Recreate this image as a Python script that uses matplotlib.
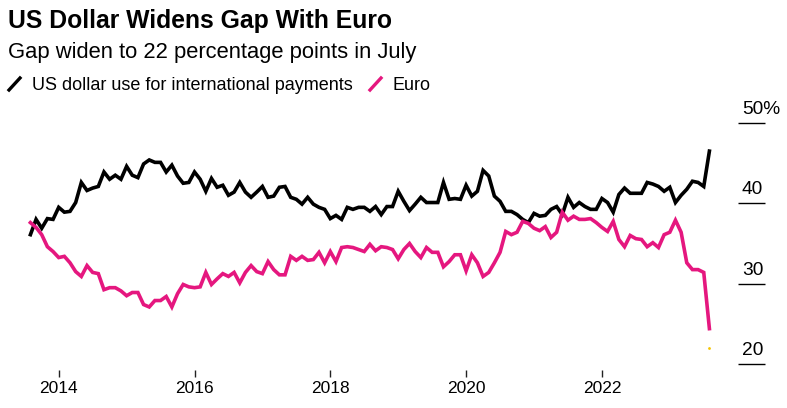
import numpy as np
import matplotlib
matplotlib.use("Agg")
import matplotlib.pyplot as plt
from matplotlib.lines import Line2D

plt.rcParams['font.family'] = ['Liberation Sans', 'DejaVu Sans']

# monthly, Jul 2013 .. Jul 2023 (share of international payments, %)
usd = [36.1, 38.0, 36.9, 38.1, 38.0, 39.5, 38.9, 39.0, 40.1, 42.6, 41.6, 41.9, 42.1, 43.9, 43.0, 43.5, 43.0, 44.6, 43.5, 43.2,
       44.9, 45.4, 45.1, 45.1, 43.9, 44.75, 43.4, 42.5, 42.6, 43.9, 43.0, 41.5, 43.1, 42.0, 42.25, 41.0, 41.4, 42.6, 41.4, 40.75,
       41.4, 42.1, 40.75, 40.9, 42.0, 42.1, 40.75, 40.5, 39.9, 40.75, 39.9, 39.5, 39.25, 38.1, 38.5, 38.0, 39.5, 39.25, 39.5, 39.5, 39.0,
       39.6, 38.6, 39.6, 39.6, 41.5, 40.25, 39.1, 39.9, 40.75, 40.1, 40.1, 40.1, 42.6, 40.5, 40.6, 40.5, 42.25, 40.9, 41.5, 44.1,
       43.4, 40.9, 40.25, 39.0, 39.0, 38.6, 38.0, 37.6, 38.75, 38.4, 38.5, 39.25, 39.6, 38.6, 40.75, 39.5, 40.1, 39.6, 39.25, 39.25,
       40.6, 40.1, 38.9, 41.1, 41.9, 41.25, 41.25, 41.25, 42.6, 42.4, 42.1, 41.5, 42.0, 40.1, 41.0, 41.75, 42.75, 42.6, 42.1, 46.5]
eur = [37.6, 37.0, 36.1, 34.6, 34.0, 33.25, 33.4, 32.6, 31.5, 30.9, 32.25, 31.4, 31.25, 29.25, 29.5, 29.5, 29.1, 28.5, 28.9, 28.9,
       27.4, 27.1, 27.9, 27.9, 28.4, 27.1, 28.75, 29.9, 29.6, 29.5, 29.6, 31.4, 29.9, 30.6, 31.25, 30.9, 31.4, 30.1, 31.4, 32.25,
       31.5, 31.25, 32.75, 31.75, 31.1, 31.1, 33.4, 32.9, 33.4, 32.9, 33.0, 33.9, 32.6, 34.0, 32.75, 34.5, 34.6, 34.5, 34.25, 34.0, 34.9,
       34.1, 34.6, 34.5, 34.25, 33.1, 34.25, 35.0, 34.0, 33.25, 34.5, 33.9, 33.9, 32.1, 32.75, 33.6, 33.6, 31.6, 33.6, 32.6, 30.9,
       31.4, 32.6, 33.9, 36.5, 36.1, 36.4, 37.75, 37.5, 36.9, 36.6, 37.1, 35.75, 36.4, 38.9, 37.9, 38.4, 38.0, 38.0, 38.1, 37.6,
       37.0, 36.5, 37.75, 35.5, 34.6, 36.0, 35.6, 35.5, 34.6, 35.1, 34.5, 36.1, 36.4, 37.9, 36.4, 32.6, 31.75, 31.75, 31.4, 24.4]
gap_last = 22.0
year_ticks = [2014, 2016, 2018, 2020, 2022]
y_ticks = [20, 30, 40, 50]
y_labels = ['20', '30', '40', '50%']

BLACK = '#000000'
PINK = '#e5177f'

# end of month as fractional year
x = 2013 + 7 / 12 + np.arange(len(usd)) / 12

W, H = 787, 408
fig = plt.figure(figsize=(W / 100, H / 100), dpi=100)
ax = fig.add_axes([20 / W, (H - 364) / H, 700 / W, 241 / H])

ax.plot(x, usd, color=BLACK, lw=2.6, solid_joinstyle='miter')
ax.plot(x, eur, color=PINK, lw=2.6, solid_joinstyle='miter')
ax.plot([x[-1]], [gap_last], 'o', color='#f5c400', ms=2, mec='none')

x0 = 2014 - 38.7 / 67.9
ax.set_xlim(x0, x0 + 700 / 67.9)
ax.set_ylim(20, 50)

for s in ['top', 'right', 'left', 'bottom']:
    ax.spines[s].set_visible(False)
ax.spines['bottom'].set_position(('outward', 4))
ax.set_xticks(year_ticks)
ax.set_xticklabels([str(t) for t in year_ticks])
ax.tick_params(axis='x', length=5, width=1, color='#222222', pad=3, labelsize=12.5)
ax.set_yticks([])

# right-hand value labels with short rules beneath
yt = ax.get_yaxis_transform()
for v, lab in zip(y_ticks, y_labels):
    ax.hlines(v, 1.0257, 1.0643, transform=yt, color=BLACK, lw=1, clip_on=False)
    ax.annotate(lab, xy=(1.0314, v), xycoords=yt, xytext=(0, 6.5), textcoords='offset points',
                ha='left', va='baseline', fontsize=13.8)

fig.text(8 / W, 1 - 28 / H, 'US Dollar Widens Gap With Euro', fontsize=17.8, fontweight='bold', va='baseline')
fig.text(8 / W, 1 - 58 / H, 'Gap widen to 22 percentage points in July', fontsize=15.8, va='baseline')

# legend
fig.add_artist(Line2D([9 / W, 20 / W], [1 - 90 / H, 1 - 78 / H], color=BLACK, lw=2.4))
fig.text(32 / W, 1 - 90 / H, 'US dollar use for international payments', fontsize=13, va='baseline')
fig.add_artist(Line2D([370 / W, 381 / W], [1 - 90 / H, 1 - 78 / H], color=PINK, lw=2.4))
fig.text(393 / W, 1 - 90 / H, 'Euro', fontsize=13, va='baseline')

fig.savefig('out.png', dpi=100)
